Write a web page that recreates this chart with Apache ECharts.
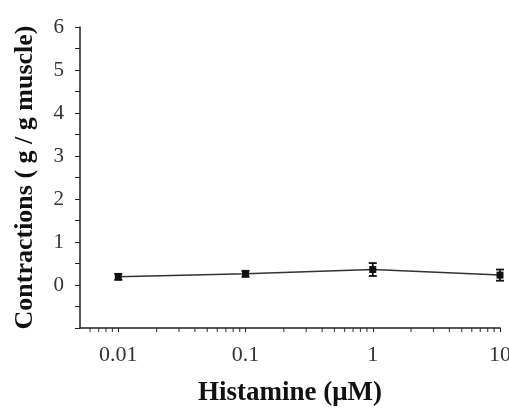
<!DOCTYPE html>
<html><head><meta charset="utf-8">
<script src="https://cdn.jsdelivr.net/npm/echarts@6/dist/echarts.min.js"></script>
<style>html,body{margin:0;padding:0;background:#fff}#c{width:509px;height:412px}</style>
</head><body><div id="c"></div>
<script>
const concentrations = [0.01, 0.1, 1, 10];
const contractions = [0.19, 0.26, 0.36, 0.23];
const errors = [0.07, 0.07, 0.15, 0.13];
const xTickLabels = ['0.01', '0.1', '1', '10'];
const yTickLabels = ['0','1','2','3','4','5','6'];
const xMinorTicks = [0.006,0.007,0.008,0.009,0.02,0.03,0.04,0.05,0.06,0.07,0.08,0.09,0.2,0.3,0.4,0.5,0.6,0.7,0.8,0.9,2,3,4,5,6,7,8,9];

const chart = echarts.init(document.getElementById('c'));
const font = '"Liberation Serif", "Times New Roman", serif';
chart.setOption({
  animation: false,
  grid: {left: 80, right: 9, top: 27, bottom: 84, outerBoundsMode: 'none', containLabel: false},
  xAxis: {
    type: 'log', logBase: 10, min: 0.005, max: 10,
    axisLine: {onZero: false, lineStyle: {color: '#222', width: 1.5}},
    axisTick: {show: true, length: 4, lineStyle: {color: '#222'}},
    axisLabel: {color: '#333', fontFamily: font, fontSize: 22, margin: 16, showMinLabel: false,
      formatter: v => { const s = String(+v.toPrecision(3)); return xTickLabels.indexOf(s) >= 0 ? s : ''; }},
    splitLine: {show: false},
    name: 'Histamine (μM)', nameLocation: 'middle', nameGap: 52,
    nameTextStyle: {fontFamily: font, fontSize: 27, fontWeight: 'bold', color: '#111'}
  },
  yAxis: {
    type: 'value', min: -1, max: 6, interval: 1,
    axisLine: {show: true, onZero: false, lineStyle: {color: '#222', width: 1.5}},
    axisTick: {show: true, length: 5, lineStyle: {color: '#222'}},
    minorTick: {show: true, splitNumber: 2, length: 5, lineStyle: {color: '#222'}},
    axisLabel: {color: '#333', fontFamily: font, fontSize: 21, margin: 16,
      formatter: v => yTickLabels.indexOf(String(v)) >= 0 ? String(v) : ''},
    splitLine: {show: false},
    name: 'Contractions ( g / g muscle)', nameLocation: 'middle', nameGap: 42,
    nameTextStyle: {fontFamily: font, fontSize: 26, fontWeight: 'bold', color: '#111'}
  },
  series: [
    {
      type: 'line', data: concentrations.map((c, i) => [c, contractions[i]]),
      symbol: 'rect', symbolSize: 7, lineStyle: {color: '#333', width: 1.5},
      itemStyle: {color: '#111'}, z: 3
    },
    {
      type: 'custom',
      data: concentrations.map((c, i) => [c, contractions[i] - errors[i], contractions[i] + errors[i]]),
      renderItem: (params, api) => {
        const lo = api.coord([api.value(0), api.value(1)]);
        const hi = api.coord([api.value(0), api.value(2)]);
        const w = 4;
        const st = {stroke: '#111', lineWidth: 1.8};
        return {type: 'group', children: [
          {type: 'line', shape: {x1: lo[0], y1: lo[1], x2: hi[0], y2: hi[1]}, style: st},
          {type: 'line', shape: {x1: lo[0]-w, y1: lo[1], x2: lo[0]+w, y2: lo[1]}, style: st},
          {type: 'line', shape: {x1: hi[0]-w, y1: hi[1], x2: hi[0]+w, y2: hi[1]}, style: st}
        ]};
      }, z: 4
    },
    {
      type: 'scatter', clip: false, silent: true,
      data: xMinorTicks.map(v => [v, -1]),
      symbol: 'rect', symbolSize: [1.2, 4], symbolOffset: [0, 2],
      itemStyle: {color: '#222'}
    }
  ]
});
</script></body></html>
